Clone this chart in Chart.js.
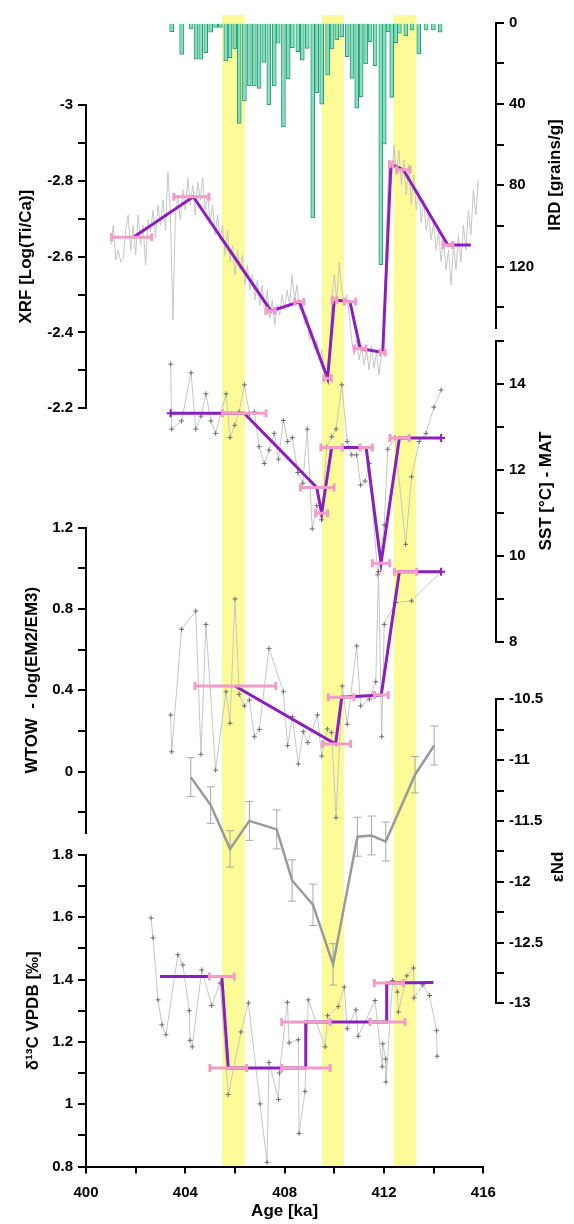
<!DOCTYPE html>
<html>
<head>
<meta charset="utf-8">
<script src="https://cdn.jsdelivr.net/npm/chart.js@4.4.1/dist/chart.umd.min.js"></script>
<style>
  body { margin: 0; background: #fff; }
  #wrap { position: relative; width: 574px; height: 1224px; }
  #wrap canvas { position: absolute; left: 0; top: 0; }
</style>
</head>
<body>
<div id="wrap">
  <canvas id="cBand" width="574" height="1224"></canvas>
  <canvas id="cIrd" width="574" height="1224"></canvas>
  <canvas id="cXrf" width="574" height="1224"></canvas>
  <canvas id="cSst" width="574" height="1224"></canvas>
  <canvas id="cWtow" width="574" height="1224"></canvas>
  <canvas id="cNd" width="574" height="1224"></canvas>
  <canvas id="cD13" width="574" height="1224"></canvas>
</div>
<script>
// ---- data ----
const bandStart = [405.47, 409.50, 412.38];
const bandEnd   = [406.40, 410.40, 413.32];

// IRD [grains/g]
const irdAge = [403.45,403.85,404.23,404.43,404.62,404.82,405.02,405.22,405.41,405.63,
  405.80,405.99,406.17,406.38,406.58,406.78,406.97,407.16,407.36,407.58,
  407.74,407.95,408.14,408.31,408.53,408.71,408.91,409.13,409.29,409.49,
  409.73,409.91,410.10,410.30,410.52,410.71,410.90,411.08,411.26,411.44,
  411.64,411.87,412.01,412.17,412.31,412.47,412.62,412.88,413.13,413.40,
  413.69,413.99,414.26];
const irdVal = [4.4,15.6,3.1,18,18,14.7,4.7,2.3,2.3,18.8,
  17.2,12.9,49.5,38.5,31.1,31.1,32.3,19.5,40.5,31.1,
  10.1,51.2,27.7,12.3,14.3,18.4,12.6,96,34.4,40.1,
  25.7,12.9,8.5,6.9,16.7,27.4,42.1,36.4,20.3,9.3,
  21.2,119,59.8,4.4,36.7,9.8,5.2,6.5,3.6,15.4,
  3.6,3.6,4.7];

// XRF log(Ti/Ca), raw scan
const xrfAge = [401.0,401.1,401.2,401.3,401.4,401.5,401.6,401.7,401.8,401.9,
  402.0,402.1,402.2,402.3,402.4,402.5,402.6,402.7,402.8,402.9,
  403.0,403.1,403.2,403.3,403.4,403.5,403.6,403.7,403.8,403.9,
  404.0,404.1,404.2,404.3,404.4,404.5,404.6,404.7,404.8,404.9,
  405.0,405.1,405.2,405.3,405.4,405.5,405.6,405.7,405.8,405.9,
  406.0,406.1,406.2,406.3,406.4,406.5,406.6,406.7,406.8,406.9,
  407.0,407.1,407.2,407.3,407.4,407.5,407.6,407.7,407.8,407.9,
  408.0,408.1,408.2,408.3,408.4,408.5,408.6,408.7,408.8,408.9,
  409.0,409.1,409.2,409.3,409.4,409.5,409.6,409.7,409.8,409.9,
  410.0,410.1,410.2,410.3,410.4,410.5,410.6,410.7,410.8,410.9,
  411.0,411.1,411.2,411.3,411.4,411.5,411.6,411.7,411.8,411.9,
  412.0,412.1,412.2,412.3,412.4,412.5,412.6,412.7,412.8,412.9,
  413.0,413.1,413.2,413.3,413.4,413.5,413.6,413.7,413.8,413.9,
  414.0,414.1,414.2,414.3,414.4,414.5,414.6,414.7,414.8,414.9,
  415.0,415.1,415.2,415.3,415.4,415.5,415.6,415.7,415.8];
const xrfVal = [-2.631,-2.683,-2.591,-2.617,-2.586,-2.596,-2.670,-2.710,-2.617,-2.683,
  -2.604,-2.710,-2.631,-2.683,-2.578,-2.697,-2.665,-2.723,-2.649,-2.736,
  -2.683,-2.749,-2.670,-2.823,-2.710,-2.433,-2.710,-2.763,-2.697,-2.776,
  -2.723,-2.807,-2.736,-2.789,-2.710,-2.797,-2.749,-2.807,-2.723,-2.763,
  -2.691,-2.736,-2.657,-2.710,-2.644,-2.683,-2.604,-2.670,-2.586,-2.631,
  -2.552,-2.617,-2.565,-2.604,-2.525,-2.578,-2.512,-2.552,-2.486,-2.538,
  -2.472,-2.525,-2.446,-2.512,-2.438,-2.486,-2.420,-2.472,-2.446,-2.499,
  -2.459,-2.512,-2.472,-2.552,-2.486,-2.525,-2.459,-2.486,-2.420,-2.446,
  -2.380,-2.406,-2.354,-2.380,-2.327,-2.354,-2.296,-2.275,-2.327,-2.486,
  -2.552,-2.486,-2.586,-2.512,-2.472,-2.499,-2.446,-2.380,-2.341,-2.380,
  -2.327,-2.367,-2.314,-2.354,-2.301,-2.367,-2.306,-2.348,-2.288,-2.341,
  -2.406,-2.670,-2.855,-2.789,-2.894,-2.815,-2.881,-2.789,-2.855,-2.763,
  -2.842,-2.736,-2.815,-2.723,-2.776,-2.691,-2.749,-2.670,-2.710,-2.644,
  -2.691,-2.617,-2.665,-2.586,-2.644,-2.565,-2.617,-2.525,-2.631,-2.565,
  -2.657,-2.586,-2.683,-2.617,-2.723,-2.657,-2.776,-2.710,-2.802];
// XRF means with age uncertainty
const xrfMeanAge = [401.91,404.32,407.45,408.59,409.73,410.00,410.63,411.04,411.95,412.28,412.78,414.57,415.50];
const xrfMean    = [-2.651,-2.758,-2.457,-2.481,-2.279,-2.486,-2.481,-2.358,-2.347,-2.844,-2.829,-2.631,-2.631];
const xrfLo      = [401.03,403.54,407.29,408.41,409.58,409.92,410.40,410.80,411.85,412.22,412.52,414.37,null];
const xrfHi      = [402.65,404.95,407.61,408.77,409.88,410.10,410.86,411.27,412.05,412.36,413.05,414.77,null];

// SST [°C] - MAT
const sstAge = [403.41,403.45,403.85,404.23,404.42,404.63,404.83,405.03,405.22,405.64,
  405.80,405.99,406.17,406.38,406.58,406.78,406.97,407.18,407.37,407.58,
  407.75,407.95,408.12,408.31,408.53,408.73,408.91,409.11,409.29,409.49,
  409.69,409.89,410.07,410.30,410.52,410.70,410.90,411.06,411.24,411.40,
  411.75,412.01,412.15,412.44,412.87,413.11,413.42,413.69,414.01,414.30];
const sstVal = [14.45,12.94,13.13,14.25,12.94,13.24,13.76,13.13,12.84,13.76,
  12.74,13.03,13.34,13.97,13.30,13.34,12.53,12.14,12.45,12.84,
  12.24,13.14,12.65,12.74,11.93,11.68,12.94,10.62,11.16,10.83,
  12.52,12.76,12.94,13.97,12.65,12.34,12.34,11.64,11.73,12.14,
  9.55,10.71,12.47,12.74,10.26,11.83,12.65,12.84,13.45,13.85];
const sstMeanAge = [403.41,406.37,409.29,409.49,409.89,410.97,411.28,411.88,412.62,414.30];
const sstMean    = [13.31,13.31,11.58,10.98,12.51,12.51,12.51,9.82,12.73,12.73];
const sstLo      = [null,405.50,408.64,409.25,409.46,null,411.03,411.53,412.24,null];
const sstHi      = [null,407.25,409.99,409.73,410.32,null,411.53,412.23,413.01,null];

// WTOW - log(EM2/EM3)
const wtowAge = [403.41,403.45,403.85,404.42,404.63,404.83,405.22,405.64,405.80,406.00,
  406.17,406.38,406.58,406.78,406.98,407.37,407.95,408.12,408.31,408.55,
  408.75,408.93,409.32,409.49,409.72,409.89,410.07,410.32,410.52,410.90,
  411.06,411.41,411.67,411.78,411.91,412.01,412.47,413.11,414.30];
const wtowVal = [0.279,0.098,0.700,0.790,0.085,0.724,0.008,0.393,0.238,0.849,
  0.380,0.323,0.352,0.172,0.208,0.606,0.393,0.128,0.270,0.038,
  0.197,0.143,0.279,0.077,0.210,0.192,-0.226,0.421,0.233,0.618,
  0.323,0.357,0.442,0.983,0.172,0.724,0.832,0.839,0.983];
const wtowMeanAge = [406.00,410.05,410.30,411.89,412.62,414.30];
const wtowMean    = [0.421,0.136,0.366,0.377,0.983,0.983];
const wtowLo      = [404.39,409.53,409.76,411.61,412.42,null];
const wtowHi      = [407.64,410.66,410.79,412.17,413.32,null];

// εNd with 2 sigma
const ndAge = [404.22,405.02,405.80,406.58,407.68,408.30,409.14,409.95,410.93,411.50,412.07,413.25,414.02];
const ndVal = [-11.14,-11.37,-11.73,-11.50,-11.57,-11.99,-12.19,-12.68,-11.63,-11.62,-11.67,-11.12,-10.88];
const ndErr = [0.16,0.15,0.15,0.16,0.16,0.17,0.17,0.17,0.16,0.16,0.16,0.15,0.16];

// δ13C VPDB
const d13Age = [402.62,402.70,402.90,403.06,403.22,403.70,403.90,404.16,404.19,404.28,
  404.66,405.06,405.40,405.73,406.24,406.54,407.01,407.29,407.37,407.75,
  407.79,408.11,408.18,408.55,408.58,408.82,408.95,409.63,409.73,410.16,
  410.40,410.52,410.87,410.96,411.64,411.93,411.95,412.07,412.08,412.35,
  412.54,412.58,412.92,413.19,413.21,413.56,413.83,414.12,414.14];
const d13Val = [1.598,1.534,1.335,1.255,1.223,1.480,1.447,1.300,1.205,1.184,
  1.431,1.317,1.389,1.031,1.232,1.325,1.001,0.813,1.134,1.015,
  1.100,1.327,1.197,1.207,0.906,1.041,1.335,1.184,1.284,1.314,
  1.376,1.242,1.303,1.218,1.333,1.120,1.194,1.145,1.071,1.397,
  1.360,1.296,1.412,1.437,1.341,1.383,1.349,1.236,1.154];
const d13MeanAge = [402.98,405.47,405.73,408.85,408.85,412.11,412.11,413.99];
const d13Mean    = [1.410,1.410,1.116,1.116,1.264,1.264,1.389,1.391];
const d13Lo      = [null,404.97,404.99,407.88,407.88,411.44,411.61,null];
const d13Hi      = [null,405.97,406.47,409.83,409.83,412.85,412.78,null];

const xTicks = [400, 404, 408, 412, 416];

// ---- look ----
const FONT = "'Liberation Sans', Arial, sans-serif";
const PURPLE = '#8c1ec0', PINK = '#f59bc8', GREY = '#c6c6c6', MARK = '#6e6e6e';

function pts(xs, ys) { return xs.map((x, i) => ({x: x, y: ys[i]})); }

// horizontal age error bars, broken by a null point
function hErr(xs, ys, lo, hi) {
  const out = [];
  xs.forEach((x, i) => {
    if (lo[i] == null) return;
    out.push({x: lo[i], y: ys[i]}, {x: hi[i], y: ys[i]}, {x: hi[i], y: null});
  });
  return out;
}
function vErr(xs, ys, e) {
  const out = [];
  xs.forEach((x, i) => out.push({x: x, y: ys[i] - e[i]}, {x: x, y: ys[i] + e[i]}, {x: x, y: null}));
  return out;
}
const onStep = (v, s) => Math.abs(v / s - Math.round(v / s)) < 1e-6;

function yAxis(o) {
  return {
    type: 'linear', position: o.side, min: o.min, max: o.max, reverse: !!o.reverse,
    afterFit: s => { s.width = o.side === 'left' ? 86 : 78; },
    afterBuildTicks: s => { s.ticks = s.ticks.filter(t => onStep(t.value, o.step)); },
    border: {color: '#000', width: 2},
    grid: {drawOnChartArea: false, color: '#000', lineWidth: 2, tickLength: 8},
    ticks: {
      stepSize: o.step, autoSkip: false, padding: 5, color: '#000',
      font: {family: FONT, size: 15, weight: 'bold'},
      callback: v => onStep(v, o.label) ? String(+v.toFixed(2)) : ''
    },
    title: {
      display: !!o.title, text: o.title || '', color: '#000',
      font: {family: FONT, size: 17, weight: 'bold'},
      padding: {top: o.tpad || 0, bottom: 0}
    }
  };
}

function xAxis(max, show) {
  return {
    type: 'linear', min: 400, max: max, offset: false, display: show,
    afterFit: s => { if (show) s.height = 57.5; },
    border: {color: '#000', width: 2},
    grid: {drawOnChartArea: false, offset: false, color: '#000', lineWidth: 2, tickLength: 7},
    ticks: {
      stepSize: 2, autoSkip: false, maxRotation: 0, padding: 10, color: '#000',
      font: {family: FONT, size: 15, weight: 'bold'},
      callback: v => xTicks.includes(v) ? String(v) : ''
    },
    title: {
      display: show, text: 'Age [ka]', color: '#000',
      font: {family: FONT, size: 17, weight: 'bold'}, padding: {top: 0, bottom: 2}
    }
  };
}

// right hand axis titles read bottom-to-top like the left ones
const sideTitle = {
  id: 'sideTitle',
  afterDraw(chart, args, o) {
    const c = chart.ctx;
    c.save();
    c.font = 'bold 17px ' + FONT;
    c.fillStyle = '#000';
    c.textAlign = 'center';
    c.textBaseline = 'middle';
    c.translate(o.x, o.y);
    c.rotate(-Math.PI / 2);
    c.fillText(o.text, 0, 0);
    c.restore();
  }
};

function plot(id, o) {
  return new Chart(document.getElementById(id), {
    type: 'line',
    data: {datasets: o.datasets},
    options: {
      responsive: false, animation: false, devicePixelRatio: 1, events: [],
      layout: {padding: o.padding},
      plugins: {legend: {display: false}, tooltip: {enabled: false}, sideTitle: o.sideTitle || false},
      scales: {x: xAxis(o.right ? 416.51 : 416, !!o.showX), y: o.y}
    },
    plugins: [sideTitle]
  });
}

const errSet = d => ({data: d, borderColor: PINK, borderWidth: 3, pointStyle: 'line', rotation: 90,
  pointRadius: 4, pointBorderColor: PINK, pointBorderWidth: 3, spanGaps: false, fill: false});
// ends: indices of the mean curve that carry a "+" marker
const meanSet = (d, ends) => ({data: d, borderColor: PURPLE, borderWidth: 3, fill: false,
  pointStyle: 'cross', pointBorderColor: PURPLE, pointBorderWidth: 2,
  pointRadius: c => (ends || []).includes(c.dataIndex) ? 4 : 0});
const rawSet = (d, marks) => ({data: d, borderColor: GREY, borderWidth: 1, fill: false,
  pointStyle: 'cross', pointRadius: marks ? 2.5 : 0, pointBorderColor: MARK, pointBorderWidth: 1});

// yellow bands, full height
plot('cBand', {
  padding: {left: 86, right: 90.7, top: 15, bottom: 57},
  y: {type: 'linear', min: 0, max: 1, display: false},
  datasets: bandStart.map((b, i) => ({
    data: [{x: b, y: 1}, {x: bandEnd[i], y: 1}],
    borderWidth: 0, pointRadius: 0, fill: 'origin', backgroundColor: '#fdfb98'
  }))
});

plot('cIrd', {
  right: true,
  padding: {left: 86, right: 0, top: 22.7, bottom: 896.4},
  y: yAxis({side: 'right', min: 0, max: 150, step: 20, label: 40, reverse: true}),
  sideTitle: {text: 'IRD [grains/g]', x: 555, y: 175},
  datasets: [{
    type: 'bar', data: pts(irdAge, irdVal), barThickness: 4, grouped: false,
    backgroundColor: '#84dfbe', borderColor: '#2f9b76', borderWidth: 1
  }]
});

plot('cXrf', {
  padding: {left: 0, right: 90.7, top: 105, bottom: 815.7},
  y: yAxis({side: 'left', min: -3, max: -2.2, step: 0.1, label: 0.2, reverse: true,
    title: 'XRF [Log(Ti/Ca)]', tpad: 16}),
  datasets: [
    errSet(hErr(xrfMeanAge, xrfMean, xrfLo, xrfHi)),
    meanSet(pts(xrfMeanAge, xrfMean)),
    rawSet(pts(xrfAge, xrfVal), false)
  ]
});

plot('cSst', {
  right: true,
  padding: {left: 86, right: 0, top: 340.5, bottom: 582.5},
  y: yAxis({side: 'right', min: 8, max: 15, step: 1, label: 2}),
  sideTitle: {text: 'SST [°C] - MAT', x: 546, y: 491},
  datasets: [
    errSet(hErr(sstMeanAge, sstMean, sstLo, sstHi)),
    meanSet(pts(sstMeanAge, sstMean), [0, sstMeanAge.length - 1]),
    rawSet(pts(sstAge, sstVal), true)
  ]
});

plot('cWtow', {
  padding: {left: 0, right: 90.7, top: 527.5, bottom: 391.2},
  y: yAxis({side: 'left', min: -0.3, max: 1.2, step: 0.2, label: 0.4,
    title: 'WTOW  - log(EM2/EM3)', tpad: 22}),
  datasets: [
    errSet(hErr(wtowMeanAge, wtowMean, wtowLo, wtowHi)),
    meanSet(pts(wtowMeanAge, wtowMean), [wtowMeanAge.length - 1]),
    rawSet(pts(wtowAge, wtowVal), true)
  ]
});

plot('cNd', {
  right: true,
  padding: {left: 86, right: 0, top: 699.3, bottom: 220.7},
  y: yAxis({side: 'right', min: -13, max: -10.5, step: 0.25, label: 0.5}),
  sideTitle: {text: 'εNd', x: 558, y: 867},
  datasets: [
    {data: pts(ndAge, ndVal), borderColor: '#9a9a9a', borderWidth: 2.5, pointRadius: 0, fill: false},
    {data: vErr(ndAge, ndVal, ndErr), borderColor: '#a8a8a8', borderWidth: 1, spanGaps: false,
      pointStyle: 'line', pointRadius: 4, pointBorderColor: '#a8a8a8', pointBorderWidth: 1, fill: false}
  ]
});

plot('cD13', {
  showX: true,
  padding: {left: 0, right: 90.7, top: 855, bottom: 0},
  y: yAxis({side: 'left', min: 0.8, max: 1.8, step: 0.1, label: 0.2,
    title: 'δ¹³C VPDB [‰]', tpad: 23}),
  datasets: [
    errSet(hErr(d13MeanAge, d13Mean, d13Lo, d13Hi)),
    meanSet(pts(d13MeanAge, d13Mean)),
    rawSet(pts(d13Age, d13Val), true)
  ]
});
</script>
</body>
</html>
